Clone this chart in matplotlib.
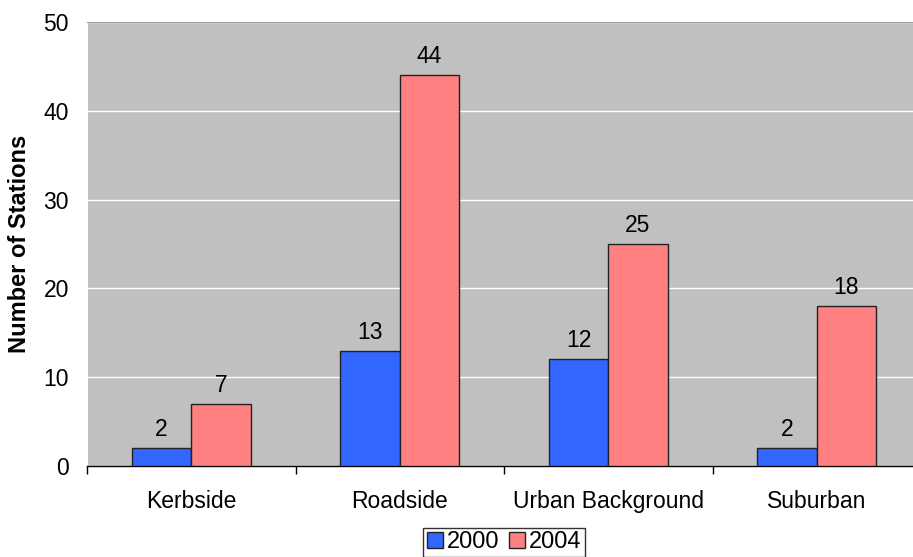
import numpy as np
import matplotlib
matplotlib.use("Agg")
import matplotlib.pyplot as plt
from matplotlib.ticker import FixedLocator

plt.rcParams["font.family"] = ["Liberation Sans", "DejaVu Sans"]

categories = ["Kerbside", "Roadside", "Urban Background", "Suburban"]
stations_2000 = [2, 13, 12, 2]
stations_2004 = [7, 44, 25, 18]
series_names = ["2000", "2004"]

blue = "#3366FF"
pink = "#FF8080"

fig = plt.figure(figsize=(9.13, 5.57), dpi=100)
ax = fig.add_axes([87 / 913, 91 / 557, 834 / 913, 444 / 557])
ax.set_facecolor("#C0C0C0")

x = np.arange(len(categories))
w = 0.285
b1 = ax.bar(x - w / 2, stations_2000, w, color=blue, edgecolor="#222222", linewidth=1, zorder=3, label=series_names[0])
b2 = ax.bar(x + w / 2, stations_2004, w, color=pink, edgecolor="#222222", linewidth=1, zorder=3, label=series_names[1])

# value labels above each bar
for bars in (b1, b2):
    for rect in bars:
        h = rect.get_height()
        ax.annotate(str(int(h)), (rect.get_x() + rect.get_width() / 2, h),
                    xytext=(0, 5), textcoords="offset points",
                    ha="center", va="bottom", fontsize=16.5)

ax.set_xlim(-0.5, len(categories) - 0.5)
ax.set_ylim(0, 50)
ax.set_yticks(range(0, 51, 10))
ax.yaxis.grid(True, color="white", linewidth=1, zorder=1)
ax.tick_params(axis="y", length=0, labelsize=16.5, pad=13)

ax.set_xticks(x)
ax.set_xticklabels(categories, fontsize=16.5)
ax.xaxis.set_minor_locator(FixedLocator(np.arange(-0.5, len(categories), 1.0)))
ax.tick_params(axis="x", which="major", length=0, pad=17)
ax.tick_params(axis="x", which="minor", length=6, width=1, color="black", direction="out")

ax.spines["right"].set_visible(False)
ax.spines["top"].set_color("#A0A0A0")
ax.spines["left"].set_color("white")
ax.spines["bottom"].set_color("black")
ax.spines["bottom"].set_linewidth(1)

ax.set_ylabel("Number of Stations", fontsize=17, fontweight="bold", labelpad=9)

leg = fig.legend(loc="lower center", bbox_to_anchor=(504 / 913, 0.0), ncol=2, fontsize=17,
                 frameon=True, fancybox=False, edgecolor="black", handlelength=0.7,
                 handleheight=0.7, handletextpad=0.15, columnspacing=0.4, borderpad=0.15,
                 borderaxespad=0)
leg.get_frame().set_linewidth(1)

fig.savefig("out.png", dpi=100)
